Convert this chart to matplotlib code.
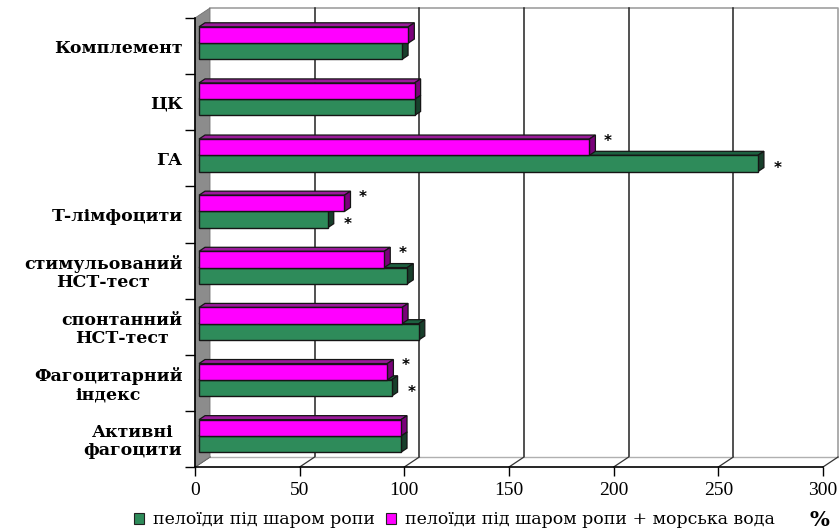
import matplotlib
matplotlib.use("Agg")
import matplotlib.pyplot as plt
from matplotlib.patches import Polygon, Patch

# ---------------- data ----------------
categories = ["Комплемент", "ЦК", "ГА", "Т-лімфоцити",
              "стимульований\nНСТ-тест", "спонтанний\nНСТ-тест",
              "Фагоцитарний\nіндекс", "Активні\nфагоцити"]
series_names = ["пелоїди під шаром ропи", "пелоїди під шаром ропи + морська вода"]
green_vals = [97, 103, 267, 61.5, 99.5, 105, 92, 96.5]
magenta_vals = [100, 103, 186.5, 69.5, 88.5, 97, 90, 96.5]
green_sig = [False, False, True, True, False, False, True, False]
magenta_sig = [False, False, True, True, True, False, True, False]
x_ticks = [0, 50, 100, 150, 200, 250, 300]
unit_label = "%"

# ---------------- styling ----------------
W, H, DPI = 839, 532, 100
fig = plt.figure(figsize=(W / DPI, H / DPI), dpi=DPI)
fig.patch.set_facecolor("white")

ax_l, ax_r, ax_t, ax_b = 195, 823, 18, 467
ax = fig.add_axes([ax_l / W, 1 - ax_b / H, (ax_r - ax_l) / W, (ax_b - ax_t) / H])
ax.set_facecolor("none")
xmin, xmax = 0, 300
n = len(categories)
ax.set_xlim(xmin, xmax)
ax.set_ylim(-0.5, n - 0.5)

pxx = (ax_r - ax_l) / (xmax - xmin)      # pixels per x-unit
pxy = (ax_b - ax_t) / n                  # pixels per category

def dxu(px):
    return px / pxx

def dyu(px):
    return px / pxy

# depth of the 3D box
DX, DY = 15, 10
# bar depth placement
FX, FY = 4, 3
BX, BY = 6, 4

ypos = [n - 1 - i for i in range(n)]
ylo, yhi = -0.5, n - 0.5

# back wall
back = Polygon([(xmin + dxu(DX), ylo + dyu(DY)), (xmax + dxu(DX), ylo + dyu(DY)),
                (xmax + dxu(DX), yhi + dyu(DY)), (xmin + dxu(DX), yhi + dyu(DY))],
               closed=True, facecolor="white", edgecolor="none", zorder=0, clip_on=False)
ax.add_patch(back)
ax.plot([xmin + dxu(DX), xmax + dxu(DX), xmax + dxu(DX)],
        [yhi + dyu(DY), yhi + dyu(DY), ylo + dyu(DY)],
        color="#a0a0a0", lw=1.2, zorder=1, clip_on=False)
for v in x_ticks[1:-1]:
    ax.plot([v + dxu(DX), v + dxu(DX)], [ylo + dyu(DY), yhi + dyu(DY)],
            color="#222222", lw=1.1, zorder=1, clip_on=False)
# floor
ax.plot([xmin + dxu(DX), xmax + dxu(DX)], [ylo + dyu(DY), ylo + dyu(DY)],
        color="#b0b0b0", lw=1.0, zorder=1, clip_on=False)
for v in x_ticks:
    ax.plot([v, v + dxu(DX)], [ylo, ylo + dyu(DY)], color="#333333", lw=0.9,
            zorder=1, clip_on=False)
# left (gray) wall
lwall = Polygon([(xmin, ylo), (xmin, yhi), (xmin + dxu(DX), yhi + dyu(DY)),
                 (xmin + dxu(DX), ylo + dyu(DY))], closed=True,
                facecolor="#8c8c8c", edgecolor="#707070", lw=0.6, zorder=1, clip_on=False)
ax.add_patch(lwall)

colors = {
    "g": ("#2e8b5a", "#1d6040", "#173f2b"),
    "m": ("#ff00ff", "#9a1a9a", "#7a007a"),
}
h = 0.29

def bar3d(v, y0, y1, key):
    front, top, side = colors[key]
    fx, fy = dxu(FX), dyu(FY)
    bx, by = dxu(BX), dyu(BY)
    x0 = xmin + fx
    x1 = v + fx
    Y0, Y1 = y0 + fy, y1 + fy
    ax.add_patch(Polygon([(x0, Y1), (x1, Y1), (x1 + bx, Y1 + by), (x0 + bx, Y1 + by)],
                         closed=True, facecolor=top, edgecolor="#151515", lw=0.9,
                         zorder=3, clip_on=False))
    ax.add_patch(Polygon([(x1, Y0), (x1 + bx, Y0 + by), (x1 + bx, Y1 + by), (x1, Y1)],
                         closed=True, facecolor=side, edgecolor="#151515", lw=0.9,
                         zorder=3, clip_on=False))
    ax.add_patch(Polygon([(x0, Y0), (x1, Y0), (x1, Y1), (x0, Y1)],
                         closed=True, facecolor=front, edgecolor="#151515", lw=1.0,
                         zorder=3, clip_on=False))

for i in range(n):
    c = ypos[i]
    bar3d(green_vals[i], c - h, c, "g")
    bar3d(magenta_vals[i], c, c + h, "m")
    if magenta_sig[i]:
        ax.text(magenta_vals[i] + dxu(FX + 18), c + h / 2 + dyu(FY + 6), "*",
                fontsize=11, fontweight="bold", ha="center", va="center",
                family="DejaVu Sans", zorder=5)
    if green_sig[i]:
        ax.text(green_vals[i] + dxu(FX + 20), c - h / 2 + dyu(FY - 5), "*",
                fontsize=11, fontweight="bold", ha="center", va="center",
                family="DejaVu Sans", zorder=5)

# axes spines and ticks
for s in ["top", "right"]:
    ax.spines[s].set_visible(False)
for s in ["left", "bottom"]:
    ax.spines[s].set_color("black")
    ax.spines[s].set_linewidth(1.2)
    ax.spines[s].set_zorder(2)

ax.set_xticks(x_ticks)
ax.set_xticklabels([str(t) for t in x_ticks], family="Liberation Serif", fontsize=14)
ax.tick_params(axis="x", direction="out", length=6.5, width=1.0, pad=4)

ax.set_yticks([k - 0.5 for k in range(n + 1)])
ax.set_yticklabels([])
ax.tick_params(axis="y", which="major", direction="out", length=7, width=1.0)
ax.set_yticks(ypos, minor=True)
ax.set_yticklabels(categories, minor=True, family="DejaVu Serif",
                   fontweight="bold", fontsize=12.5)
ax.tick_params(axis="y", which="minor", length=0, pad=9)
for lbl in ax.get_yticklabels(minor=True):
    lbl.set_multialignment("center")
    lbl.set_linespacing(1.1)

# legend
handles = [Patch(facecolor=colors["g"][0], edgecolor="#222222", lw=0.8),
           Patch(facecolor=colors["m"][0], edgecolor="#222222", lw=0.8)]
leg = fig.legend(handles, series_names, loc="center left",
                 bbox_to_anchor=(134 / W, 1 - 520 / H), ncol=2, frameon=False,
                 prop={"family": "DejaVu Serif", "size": 12.5},
                 handlelength=0.6, handleheight=0.6, handletextpad=0.5,
                 columnspacing=0.6, borderaxespad=0, borderpad=0)
fig.text(819 / W, 1 - 520 / H, unit_label, family="DejaVu Serif",
         fontweight="bold", fontsize=15, ha="center", va="center")

fig.savefig("out.png", dpi=DPI)
